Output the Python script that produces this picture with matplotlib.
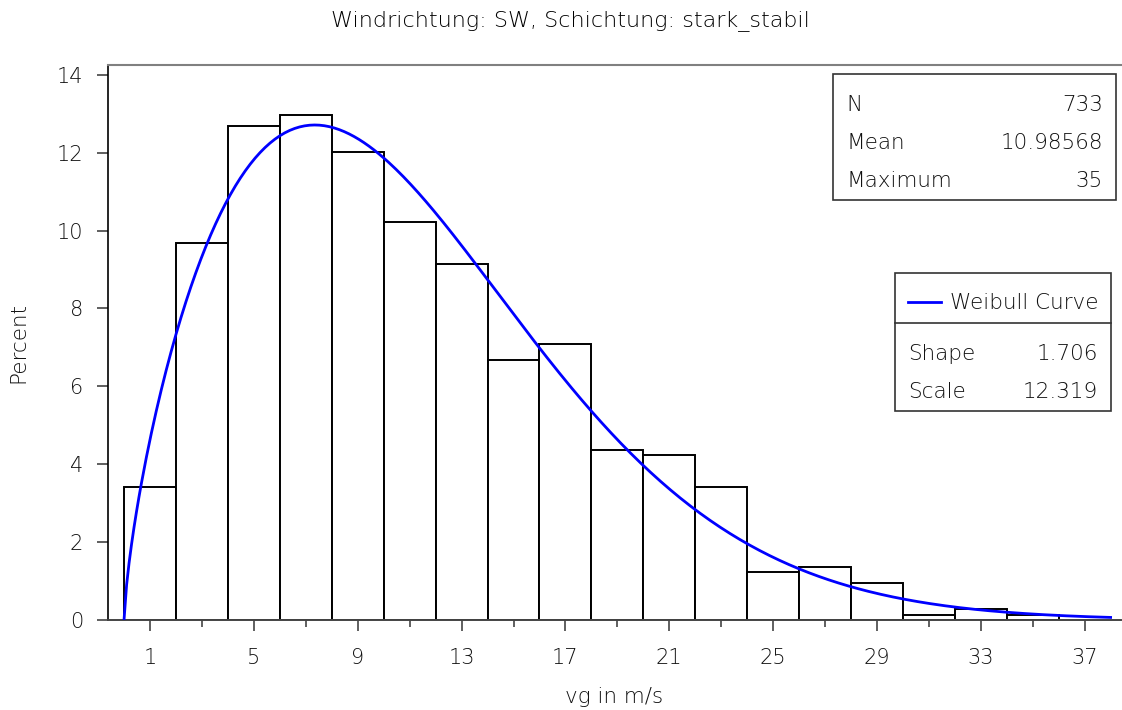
import numpy as np
import matplotlib.pyplot as plt
from matplotlib.patches import Rectangle
from matplotlib.lines import Line2D

# histogram of vg (m/s), bins of width 2 starting at 0
bin_left = [0, 2, 4, 6, 8, 10, 12, 14, 16, 18, 20, 22, 24, 26, 28, 30, 32, 34]
percent = [3.41, 9.69, 12.69, 12.96, 12.01, 10.23, 9.14, 6.68, 7.09,
           4.37, 4.23, 3.41, 1.23, 1.36, 0.95, 0.14, 0.27, 0.14]
bin_width = 2

# summary stats and fitted Weibull parameters shown in the insets
n_obs = "733"
mean_val = "10.98568"
max_val = "35"
shape = 1.706
scale = 12.319

major_ticks = [1, 5, 9, 13, 17, 21, 25, 29, 33, 37]
minor_ticks = [3, 7, 11, 15, 19, 23, 27, 31, 35]
y_ticks = [0, 2, 4, 6, 8, 10, 12, 14]

plt.rcParams['font.family'] = ['DejaVu Sans']
plt.rcParams['font.weight'] = 'light'
plt.rcParams['axes.labelweight'] = 'light'
txt_col = '#111111'

W, H = 1122, 710
fig = plt.figure(figsize=(W / 100, H / 100), dpi=100)


def fx(x):
    return x / W


def fy(y):
    return 1 - y / H


ax = fig.add_axes([fx(108), fy(620), fx(1121) - fx(108), fy(65) - fy(620)])

ax.bar(bin_left, percent, width=bin_width, align='edge',
       facecolor='white', edgecolor='black', linewidth=1.4, zorder=2)

# Weibull density scaled to percent per bin
xc = np.linspace(0.001, 38, 400)
pdf = (shape / scale) * (xc / scale) ** (shape - 1) * np.exp(-(xc / scale) ** shape)
ax.plot(xc, pdf * bin_width * 100, color='#0000ff', lw=2, zorder=3)

ax.set_xlim(-0.62, 38.4)
ax.set_ylim(0, 14.25)
ax.set_xticks(major_ticks)
ax.set_xticks(minor_ticks, minor=True)
ax.set_yticks(y_ticks)
ax.tick_params(axis='both', which='major', length=8, width=1.2, labelsize=15,
               colors='#444444', labelcolor=txt_col)
ax.tick_params(axis='x', which='major', pad=12)
ax.tick_params(axis='y', which='major', pad=10)
ax.tick_params(axis='x', which='minor', length=5, width=1.2, colors='#444444')

ax.spines['right'].set_visible(False)
ax.spines['top'].set_color('#808080')
ax.spines['top'].set_linewidth(1.5)
ax.spines['left'].set_color('black')
ax.spines['left'].set_linewidth(1.2)
ax.spines['bottom'].set_color('#444444')
ax.spines['bottom'].set_linewidth(1.4)

ax.set_xlabel('vg in m/s', fontsize=15.5, color=txt_col, labelpad=14)
ax.set_ylabel('Percent', fontsize=15.5, color=txt_col, labelpad=20)

fig.text(fx(570), fy(21), 'Windrichtung: SW, Schichtung: stark_stabil',
         ha='center', va='center', fontsize=16, color='black')

# stats inset
fig.add_artist(Rectangle((fx(833), fy(200)), fx(1116) - fx(833), fy(74) - fy(200),
                         transform=fig.transFigure, fill=False, ec='#333333', lw=1.2))
for row_y, name, val in [(105, 'N', n_obs), (143, 'Mean', mean_val), (181, 'Maximum', max_val)]:
    fig.text(fx(846), fy(row_y), name, ha='left', va='center', fontsize=15.5, color=txt_col)
    fig.text(fx(1103), fy(row_y), val, ha='right', va='center', fontsize=15.5, color=txt_col)

# Weibull legend inset
fig.add_artist(Rectangle((fx(895), fy(411)), fx(1111) - fx(895), fy(273) - fy(411),
                         transform=fig.transFigure, fill=False, ec='#333333', lw=1.2))
fig.add_artist(Line2D([fx(895), fx(1111)], [fy(323), fy(323)],
                      transform=fig.transFigure, color='#333333', lw=1.2))
fig.add_artist(Line2D([fx(908), fx(941)], [fy(302), fy(302)],
                      transform=fig.transFigure, color='#0000ff', lw=2))
fig.text(fx(950), fy(303), 'Weibull Curve', ha='left', va='center', fontsize=15.5, color=txt_col)
for row_y, name, val in [(354, 'Shape', f'{shape:.3f}'), (392, 'Scale', f'{scale:.3f}')]:
    fig.text(fx(908), fy(row_y), name, ha='left', va='center', fontsize=15.5, color=txt_col)
    fig.text(fx(1098), fy(row_y), val, ha='right', va='center', fontsize=15.5, color=txt_col)

fig.savefig('out.png', dpi=100)
